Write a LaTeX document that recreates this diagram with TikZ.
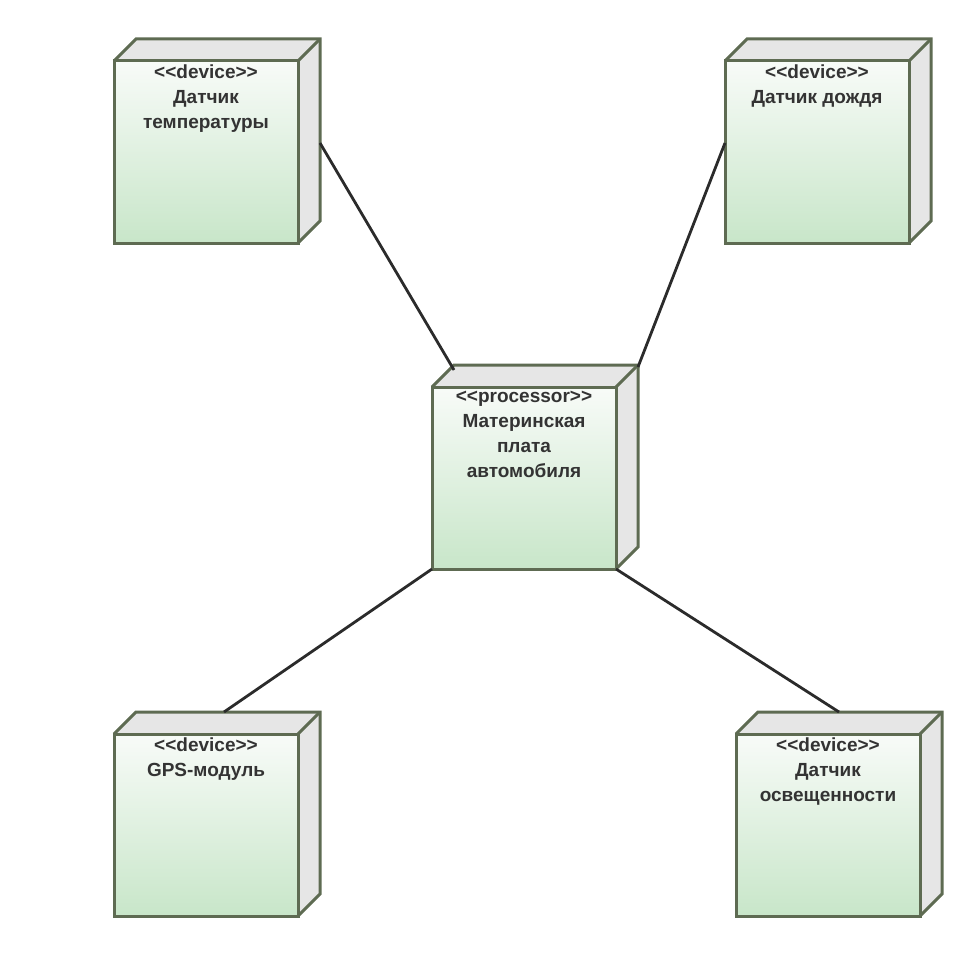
\documentclass[tikz,border=0pt]{standalone}
\usepackage{fontspec}
\usetikzlibrary{calc}
\newfontfamily\lbfont{Liberation Sans}
\definecolor{edgec}{HTML}{5E6B52}
\definecolor{gtop}{HTML}{F8FBF8}
\definecolor{gbot}{HTML}{C8E6C9}
\definecolor{sidec}{HTML}{E6E6E6}
\definecolor{txtc}{HTML}{333333}
\definecolor{linkc}{HTML}{2B2B2B}
\begin{document}
\begin{tikzpicture}[x=1pt,y=-1pt,
  front/.style={draw=edgec, line width=3pt, top color=gtop, bottom color=gbot,
    minimum width=184pt, minimum height=182pt, anchor=north west, inner sep=0pt, outer sep=0pt},
  facefill/.style={fill=sidec},
  face/.style={draw=edgec, line width=3pt, line join=miter},
  lbl/.style={anchor=north, align=center, font=\lbfont\bfseries\fontsize{19}{25}\selectfont, text=txtc, inner sep=0pt},
  link/.style={draw=linkc, line width=2.8pt}]
\useasboundingbox (0,0) rectangle (980,955);
% nodes
\foreach \nm/\px/\py in {tl/114/61, tr/725/61, cm/432/387, bl/114/734, br/736/734}{
  \node[front] (\nm) at (\px,\py) {};
  \fill[facefill] (\nm.north west) -- ++(22,-22) -- ++(184,0) -- ++(0,182) -- (\nm.south east) -- (\nm.north east) -- cycle;
  \draw[face] (\nm.north west) -- ++(22,-22) -- ++(184,0) -- ++(0,182) -- (\nm.south east);
  \draw[face] (\nm.north east) -- ++(22,-22);
  \draw[face] (\nm.north west) -- (\nm.north east) -- (\nm.south east);
}
\node[lbl] (tlt) at ([yshift=-4pt]tl.north) {<<device>>\\Датчик\\температуры};
\node[lbl] (trt) at ([yshift=-4pt]tr.north) {<<device>>\\Датчик дождя};
\node[lbl] (cmt) at ([yshift=-4pt]cm.north) {<<processor>>\\Материнская\\плата\\автомобиля};
\node[lbl] (blt) at ([yshift=-4pt]bl.north) {<<device>>\\GPS-модуль};
\node[lbl] (brt) at ([yshift=-4pt]br.north) {<<device>>\\Датчик\\освещенности};
% connector end points
\coordinate (tlA) at ($(tl.north east)+(22,82)$);
\coordinate (cmA) at ($(cm.north west)+(22,-17)$);
\coordinate (trA) at ($(tr.north west)+(0,82)$);
\coordinate (cmB) at ($(cm.north east)+(22,-20)$);
\coordinate (blA) at ($(bl.north west)+(110,-22)$);
\coordinate (brA) at ($(br.north west)+(103,-22)$);
\draw[link] (tlA) -- (cmA);
\draw[link] (trA) -- (cmB);
\draw[link] (cm.south west) -- (blA);
\draw[link] (cm.south east) -- (brA);
\end{tikzpicture}
\end{document}
